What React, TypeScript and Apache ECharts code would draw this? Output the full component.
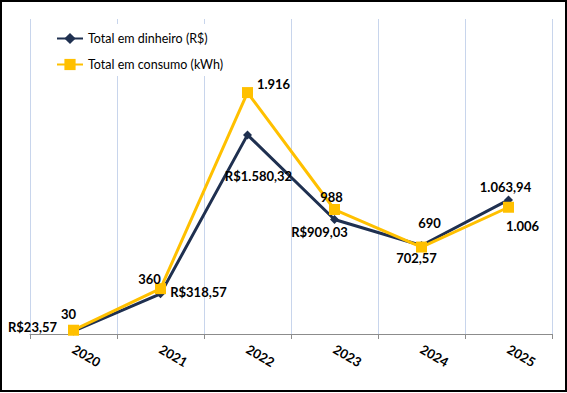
import React, { useEffect, useRef } from "react";
import * as echarts from "echarts";

const years = ["2020", "2021", "2022", "2023", "2024", "2025"];
const dinheiro = [23.57, 318.57, 1580.32, 909.03, 702.57, 1063.94];
const dinheiroLabels = ["R$23,57", "R$318,57", "R$1.580,32", "R$909,03", "702,57", "1.063,94"];
const consumo = [30, 360, 1916, 988, 690, 1006];
const consumoLabels = ["30", "360", "1.916", "988", "690", "1.006"];

const dinheiroOffsets = [[-41, -4], [38, -2], [11, 41], [-15, 13], [-5, 13], [-3, -13]];
const consumoOffsets = [[-5, -16], [-11, -10], [26, -9], [-3, -13], [8, -24], [14, 19]];

const FONT = "Lato, 'Open Sans', sans-serif";
const NAVY = "#1F3050";
const GOLD = "#FFC000";

export default function App() {
  const ref = useRef<HTMLDivElement>(null);
  useEffect(() => {
    if (!ref.current) return;
    const chart = echarts.init(ref.current, null, { renderer: "svg" });
    const labelStyle = {
      show: true,
      position: "inside",
      align: "center",
      verticalAlign: "middle",
      fontFamily: FONT,
      fontWeight: "bold",
      fontSize: 13,
      color: "#000",
    };
    chart.setOption({
      animation: false,
      backgroundColor: "#fff",
      grid: { left: 30, right: 15, top: 19, bottom: 59 },
      legend: {
        orient: "vertical",
        left: 46,
        top: 24,
        padding: [8, 10, 5, 10],
        backgroundColor: "#fff",
        itemWidth: 26,
        itemHeight: 14,
        itemGap: 13,
        textStyle: { fontFamily: FONT, fontSize: 12.5, color: "#000" },
        data: ["Total em dinheiro (R$)", "Total em consumo (kWh)"],
      },
      xAxis: {
        type: "category",
        data: years,
        boundaryGap: true,
        axisLine: { lineStyle: { color: "#8c8c8c", width: 1 } },
        axisTick: { show: true, length: 5, lineStyle: { color: "#8c8c8c" } },
        splitLine: { show: true, lineStyle: { color: "#c8d5ec", width: 1 } },
        axisLabel: {
          rotate: -30,
          margin: 14,
          fontFamily: FONT,
          fontWeight: "bold",
          fontSize: 13,
          color: "#000",
        },
      },
      yAxis: {
        type: "value",
        min: 0,
        max: 2500,
        show: false,
        splitLine: { show: false },
      },
      series: [
        {
          name: "Total em dinheiro (R$)",
          type: "line",
          data: dinheiro.map((v, i) => ({
            value: v,
            label: { offset: dinheiroOffsets[i] },
          })),
          symbol: "diamond",
          symbolSize: 9,
          lineStyle: { color: NAVY, width: 3 },
          itemStyle: { color: NAVY },
          label: { ...labelStyle, formatter: (p: any) => dinheiroLabels[p.dataIndex] },
          z: 2,
        },
        {
          name: "Total em consumo (kWh)",
          type: "line",
          data: consumo.map((v, i) => ({
            value: v,
            label: { offset: consumoOffsets[i] },
          })),
          symbol: "rect",
          symbolSize: 11,
          lineStyle: { color: GOLD, width: 3 },
          itemStyle: { color: GOLD },
          label: { ...labelStyle, formatter: (p: any) => consumoLabels[p.dataIndex] },
          z: 3,
        },
      ],
      graphic: [
        {
          type: "rect",
          shape: { x: 1, y: 1, width: 565, height: 390 },
          style: { fill: "none", stroke: "#000", lineWidth: 2 },
          silent: true,
          z: 100,
        },
      ],
    });
    return () => chart.dispose();
  }, []);
  return (
    <div
      ref={ref}
      style={{ position: "fixed", left: 0, top: 0, width: 567, height: 393 }}
    />
  );
}
